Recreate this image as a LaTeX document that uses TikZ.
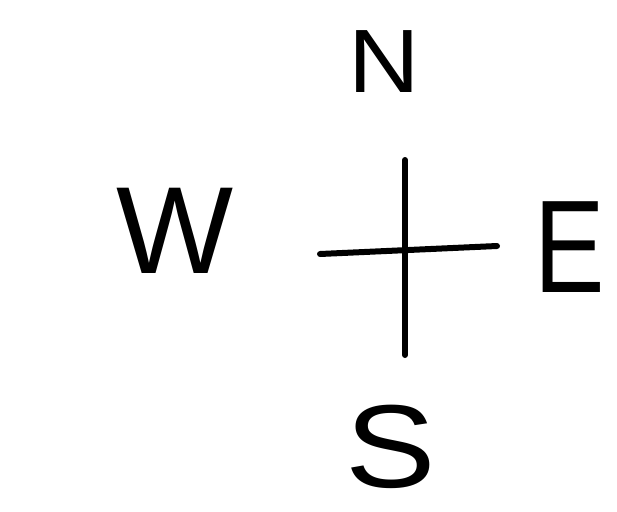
\documentclass[tikz,border=0pt]{standalone}
\usepackage{fontspec}
\setmainfont{Liberation Sans}
\begin{document}
\begin{tikzpicture}[x=1pt,y=-1pt,
  letter/.style={inner sep=0pt, outer sep=0pt, anchor=center},
  stroke/.style={line width=6pt, line cap=round}]
\useasboundingbox[fill=white] (0,0) rectangle (617,511);
\node[letter, xscale=1.1] (n) at (384,62) {\fontsize{90}{90}\selectfont N};
\node[letter] (w) at (175,231) {\fontsize{124}{124}\selectfont W};
\node[letter, xscale=0.8] (e) at (570,247) {\fontsize{132}{132}\selectfont E};
\node[letter, xscale=1.15] (s) at (391,447) {\fontsize{118}{118}\selectfont S};
\coordinate (top) at (405,160);
\coordinate (bot) at (405,355);
\coordinate (lft) at (320,254);
\coordinate (rgt) at (497,246);
\draw[stroke] (top) -- (bot);
\draw[stroke] (lft) -- (rgt);
\end{tikzpicture}
\end{document}
